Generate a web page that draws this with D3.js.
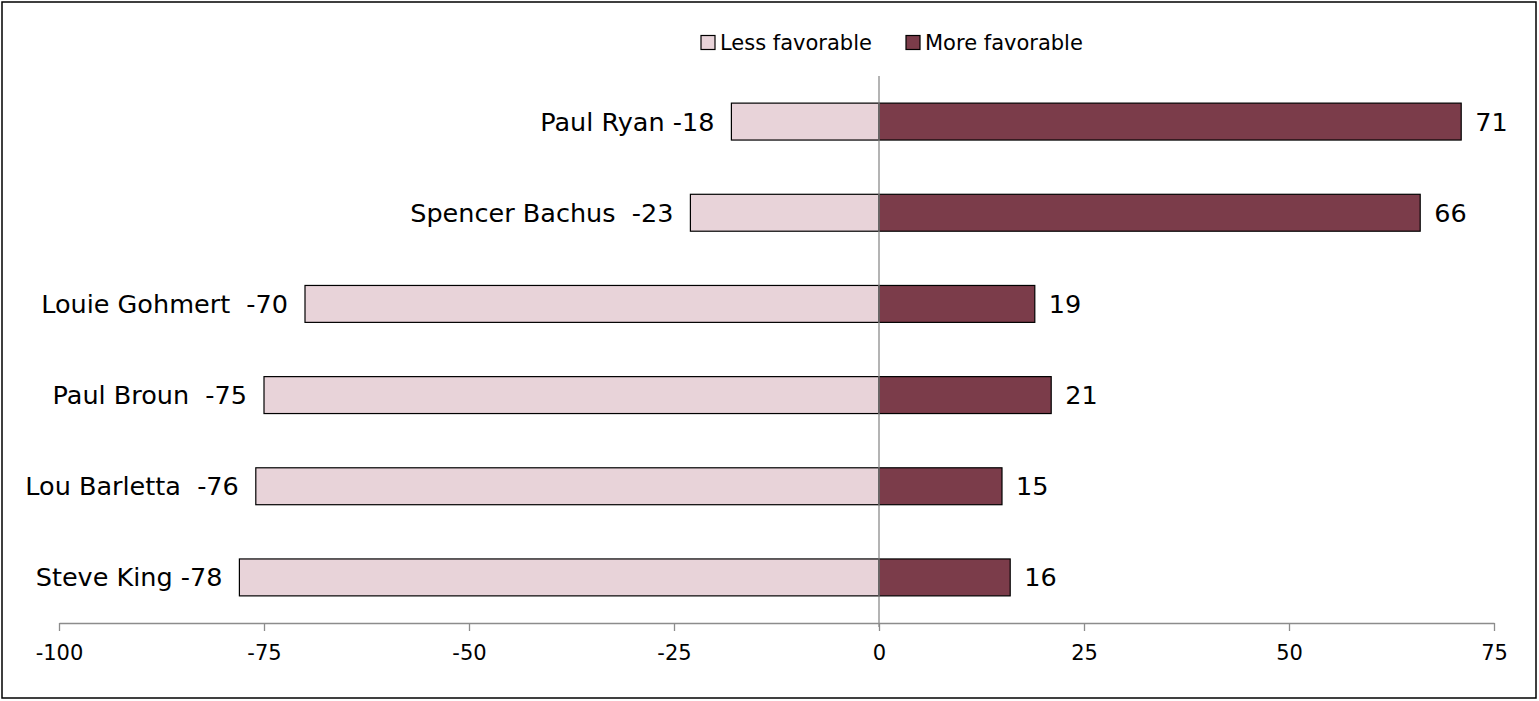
<!DOCTYPE html>
<html><head><meta charset="utf-8">
<script src="https://cdn.jsdelivr.net/npm/d3@7"></script>
<style>
html,body{margin:0;padding:0;background:#fff;}
text{font-family:"DejaVu Sans",sans-serif;fill:#000;}
</style></head>
<body>
<svg id="chart" width="1539" height="701"></svg>
<script>
const names = ["Paul Ryan -18", "Spencer Bachus  -23", "Louie Gohmert  -70", "Paul Broun  -75", "Lou Barletta  -76", "Steve King -78"];
const lessFavorable = [-18, -23, -70, -75, -76, -78];
const moreFavorable = [71, 66, 19, 21, 15, 16];
const tickValues = [-100, -75, -50, -25, 0, 25, 50, 75];
const seriesNames = ["Less favorable", "More favorable"];
const colors = ["#E8D3D9", "#7B3C4A"];

const svg = d3.select("#chart");
svg.append("rect").attr("x", 2).attr("y", 2).attr("width", 1534).attr("height", 696)
  .attr("fill", "#fff").attr("stroke", "#000").attr("stroke-width", 1.5);

const x = d3.scaleLinear().domain([-100, 75]).range([59, 1494]);
const y = d3.scaleBand().domain(names).range([76, 623]).paddingInner(0.595).paddingOuter(0.2975);

// axis
const axisY = 623;
const axis = d3.axisBottom(x).tickValues(tickValues).tickSize(8).tickPadding(14).tickSizeOuter(0)
  .tickFormat(d => String(d));
const ag = svg.append("g").attr("transform", `translate(0,${axisY})`).call(axis);
ag.select(".domain").attr("stroke", "#8c8c8c").attr("stroke-width", 1.3);
ag.selectAll(".tick line").attr("stroke", "#8c8c8c").attr("stroke-width", 1.3);
ag.selectAll(".tick text").style("font-family", '"DejaVu Sans",sans-serif').style("font-size", "21px").attr("fill", "#000");

const rows = names.map((n, i) => ({name: n, less: lessFavorable[i], more: moreFavorable[i]}));

svg.append("g").selectAll("rect").data(rows).join("rect")
  .attr("x", d => x(d.less)).attr("y", d => y(d.name))
  .attr("width", d => x(0) - x(d.less)).attr("height", y.bandwidth())
  .attr("fill", colors[0]).attr("stroke", "#000").attr("stroke-width", 1.2);

svg.append("g").selectAll("rect").data(rows).join("rect")
  .attr("x", x(0)).attr("y", d => y(d.name))
  .attr("width", d => x(d.more) - x(0)).attr("height", y.bandwidth())
  .attr("fill", colors[1]).attr("stroke", "#000").attr("stroke-width", 1.2);

// zero line
svg.append("line").attr("x1", x(0)).attr("x2", x(0)).attr("y1", 76).attr("y2", axisY + 4)
  .attr("stroke", "#8c8c8c").attr("stroke-width", 1.3);

// category labels (name + less value)
svg.append("g").selectAll("text").data(rows).join("text")
  .attr("x", d => x(d.less) - 17).attr("y", d => y(d.name) + y.bandwidth() / 2 + 9)
  .attr("text-anchor", "end")
  .style("font-size", "25.5px").style("white-space", "pre")
  .text(d => d.name);

// value labels
svg.append("g").selectAll("text").data(rows).join("text")
  .attr("x", d => x(d.more) + 14).attr("y", d => y(d.name) + y.bandwidth() / 2 + 9)
  .style("font-size", "25.5px")
  .text(d => d.more);

// legend
const legendX = [701, 906];
const lg = svg.append("g");
seriesNames.forEach((s, i) => {
  lg.append("rect").attr("x", legendX[i]).attr("y", 35.5).attr("width", 14).attr("height", 14)
    .attr("fill", colors[i]).attr("stroke", "#000").attr("stroke-width", 1.2);
  lg.append("text").attr("x", legendX[i] + 19).attr("y", 50)
    .style("font-size", "21px").text(s);
});
</script>
</body></html>
